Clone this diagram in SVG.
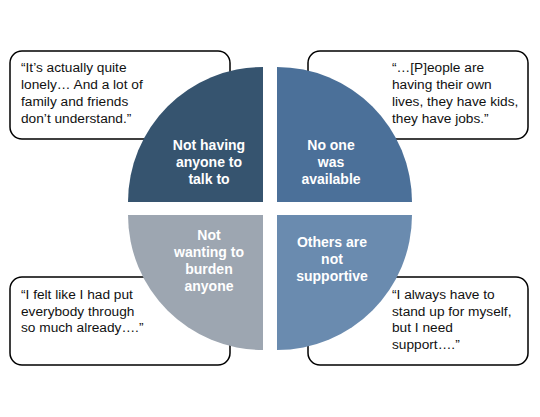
<svg xmlns="http://www.w3.org/2000/svg" width="540" height="417" viewBox="0 0 540 417">
<style>
.box{fill:#fff;stroke:#000;stroke-width:1.5}
.q{font-family:"Liberation Sans",Arial,sans-serif;font-size:13.7px;fill:#111}
.lbl{font-family:"Liberation Sans",Arial,sans-serif;font-size:14px;font-weight:bold;fill:#fff;text-anchor:middle}
</style>
<rect width="540" height="417" fill="#fff"/>
<g id="quote-tl">
<rect class="box" x="10" y="51" width="220" height="88" rx="12"/>
<text class="q" x="21" y="72">“It’s actually quite</text>
<text class="q" x="21" y="89">lonely… And a lot of</text>
<text class="q" x="21" y="106">family and friends</text>
<text class="q" x="21" y="122.5">don’t understand.”</text>
</g>
<g id="quote-tr">
<rect class="box" x="308" y="51" width="220" height="88" rx="12"/>
<text class="q" x="392" y="72">“…[P]eople are</text>
<text class="q" x="392" y="89">having their own</text>
<text class="q" x="392" y="106">lives, they have kids,</text>
<text class="q" x="392" y="122.5">they have jobs.”</text>
</g>
<g id="quote-bl">
<rect class="box" x="10" y="277" width="220" height="88" rx="12"/>
<text class="q" x="21" y="299">“I felt like I had put</text>
<text class="q" x="21" y="315.5">everybody through</text>
<text class="q" x="21" y="332">so much already….”</text>
</g>
<g id="quote-br">
<rect class="box" x="308" y="277" width="220" height="88" rx="12"/>
<text class="q" x="392" y="299">“I always have to</text>
<text class="q" x="392" y="315.5">stand up for myself,</text>
<text class="q" x="392" y="332">but I need</text>
<text class="q" x="392" y="348.5">support….”</text>
</g>
<g id="q-tl">
<path d="M263 202 L128 202 A135 135 0 0 1 263 67 Z" fill="#36546F"/>
<text class="lbl" x="209" y="150">Not having</text>
<text class="lbl" x="209" y="167">anyone to</text>
<text class="lbl" x="209" y="184">talk to</text>
</g>
<g id="q-tr">
<path d="M277 202 L277 67 A135 135 0 0 1 412 202 Z" fill="#4B7099"/>
<text class="lbl" x="331" y="150">No one</text>
<text class="lbl" x="331" y="167">was</text>
<text class="lbl" x="331" y="184">available</text>
</g>
<g id="q-bl">
<path d="M263 215 L263 350 A135 135 0 0 1 128 215 Z" fill="#9DA6B1"/>
<text class="lbl" x="209" y="240">Not</text>
<text class="lbl" x="209" y="257">wanting to</text>
<text class="lbl" x="209" y="274">burden</text>
<text class="lbl" x="209" y="290.5">anyone</text>
</g>
<g id="q-br">
<path d="M277 215 L412 215 A135 135 0 0 1 277 350 Z" fill="#6A8BAF"/>
<text class="lbl" x="332" y="247">Others are</text>
<text class="lbl" x="332" y="264">not</text>
<text class="lbl" x="332" y="280.5">supportive</text>
</g>
<g id="connectors"/>
</svg>
